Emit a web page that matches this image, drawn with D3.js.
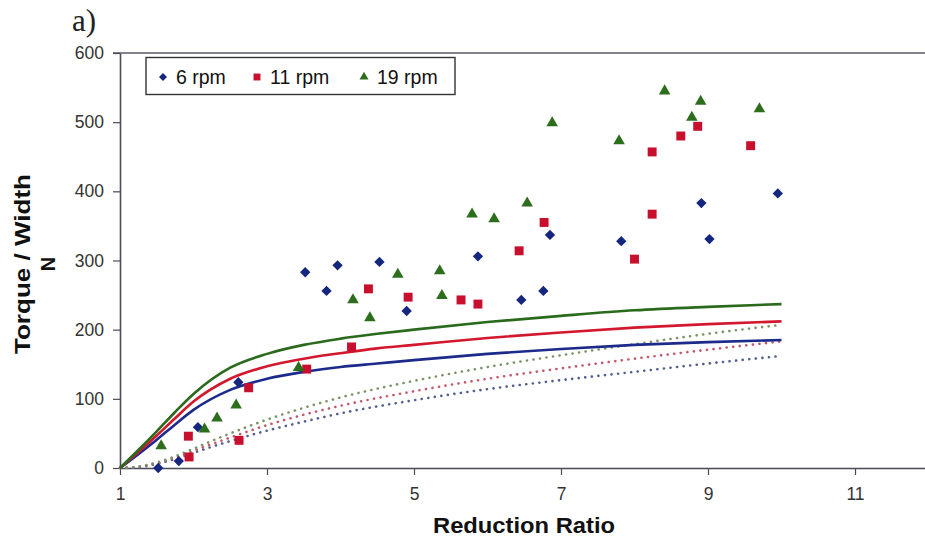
<!DOCTYPE html>
<html>
<head>
<meta charset="utf-8">
<script src="https://cdn.jsdelivr.net/npm/d3@7"></script>
<style>
  html, body { margin: 0; padding: 0; background: #ffffff; }
  svg { display: block; }
</style>
</head>
<body>
<svg id="chart" width="925" height="544"></svg>
<script>
// Measured torque per unit width against reduction ratio, three drum speeds
const rpm6 = [
  [1.52, 0], [1.80, 10], [2.06, 59], [2.61, 124], [3.52, 283], [3.81, 256],
  [3.96, 293], [4.53, 298], [4.90, 227], [5.87, 306], [6.46, 243], [6.76, 256],
  [6.85, 337], [7.82, 328], [8.91, 383], [9.02, 331], [9.95, 397]
];
const rpm11 = [
  [1.94, 16], [1.93, 46], [2.62, 40], [2.75, 116], [3.54, 143], [4.15, 175],
  [4.38, 259], [4.92, 247], [5.64, 243], [5.87, 237], [6.43, 314], [6.77, 355],
  [8.00, 302], [8.24, 367], [8.24, 457], [8.63, 480], [8.86, 494], [9.58, 466]
];
const rpm19 = [
  [1.56, 32], [2.15, 56], [2.32, 72], [2.58, 91], [3.43, 145], [4.17, 243],
  [4.40, 217], [4.78, 280], [5.35, 285], [5.38, 249], [5.79, 367], [6.09, 360],
  [6.54, 383], [6.88, 499], [7.79, 473], [8.41, 545], [8.78, 507], [8.90, 530],
  [9.70, 519]
];

// Model curves (solid) and alternative model (dotted), sampled along the ratio axis
const curveRatio = [1, 1.25, 1.5, 1.75, 2, 2.5, 3, 3.5, 4, 4.5, 5, 6, 7, 8, 9, 10];
const model6  = [0, 20, 41, 63, 84, 113, 129, 139, 146, 151, 156, 165, 172, 178, 182, 185];
const model11 = [0, 23, 47, 72, 96, 129, 147, 158, 166, 173, 178, 188, 196, 203, 208, 212];
const model19 = [0, 26, 53, 81, 107, 145, 165, 178, 187, 194, 200, 211, 220, 228, 233, 237];
const altRatio = [1, 1.25, 1.5, 1.75, 2, 2.5, 3, 3.5, 4, 5, 6, 7, 8, 9, 10];
const alt6    = [0, 1, 6, 13, 22, 39, 54, 67, 79, 98, 114, 127, 139, 151, 162];
const alt11   = [0, 2, 7, 15, 25, 44, 62, 77, 90, 111, 129, 144, 158, 171, 183];
const alt19   = [0, 2, 8, 17, 28, 50, 70, 87, 102, 126, 146, 163, 179, 194, 207];

const xTicks = [1, 3, 5, 7, 9, 11];
const yTicks = [0, 100, 200, 300, 400, 500, 600];
const legendLabels = ["6 rpm", "11 rpm", "19 rpm"];

const colors = { blue: "#15267f", red: "#c8102e", green: "#2c6e1c" };

const svg = d3.select("#chart");
const font = "'Liberation Sans', Arial, sans-serif";

const x = d3.scaleLinear().domain([1, 12]).range([120, 928.5]);
const y = d3.scaleLinear().domain([0, 600]).range([468, 53]);

// Panel label
svg.append("text")
  .attr("x", 72).attr("y", 31)
  .attr("font-family", "'Liberation Serif', 'Times New Roman', serif")
  .attr("font-size", 31).attr("fill", "#222")
  .text("a)");

// Top frame line
svg.append("line")
  .attr("x1", 113).attr("x2", 925)
  .attr("y1", y(600)).attr("y2", y(600))
  .attr("stroke", "#5a5a66").attr("stroke-width", 1.6);

// Axes
const yAxis = d3.axisLeft(y).tickValues(yTicks).tickSize(7).tickSizeOuter(0).tickPadding(9);
const gy = svg.append("g").attr("transform", `translate(${x(1)},0)`).call(yAxis);
gy.select(".domain").attr("stroke", "#4a4a5a").attr("stroke-width", 1.6);
gy.selectAll(".tick line").attr("stroke", "#4a4a5a").attr("stroke-width", 1.2);
gy.selectAll(".tick text").attr("font-family", font).attr("font-size", 17.5).attr("fill", "#333");

const xAxis = d3.axisBottom(x).tickValues(xTicks).tickSize(7).tickSizeOuter(0).tickPadding(13);
const gx = svg.append("g").attr("transform", `translate(0,${y(0)})`).call(xAxis);
gx.select(".domain").attr("stroke", "#4a4a5a").attr("stroke-width", 1.6);
gx.selectAll(".tick line").attr("stroke", "#4a4a5a").attr("stroke-width", 1.2);
gx.selectAll(".tick text").attr("font-family", font).attr("font-size", 17.5).attr("fill", "#333");

// Axis titles
svg.append("text")
  .attr("x", 524).attr("y", 533)
  .attr("text-anchor", "middle")
  .attr("font-family", font).attr("font-weight", "bold")
  .attr("font-size", 22).attr("fill", "#111")
  .attr("textLength", 182).attr("lengthAdjust", "spacingAndGlyphs")
  .text("Reduction Ratio");

const yTitle = svg.append("g").attr("transform", "translate(0,264) rotate(-90)");
yTitle.append("text")
  .attr("x", 0).attr("y", 30)
  .attr("text-anchor", "middle")
  .attr("font-family", font).attr("font-weight", "bold")
  .attr("font-size", 22).attr("fill", "#111")
  .attr("textLength", 180).attr("lengthAdjust", "spacingAndGlyphs")
  .text("Torque / Width");
yTitle.append("text")
  .attr("x", 0).attr("y", 55)
  .attr("text-anchor", "middle")
  .attr("font-family", font).attr("font-weight", "bold")
  .attr("font-size", 20).attr("fill", "#111")
  .text("N");

// Curves
const line = d3.line()
  .x(d => x(d[0])).y(d => y(d[1]))
  .curve(d3.curveMonotoneX);
const pair = (xs, vals) => xs.map((r, i) => [r, vals[i]]);

const dotted = [
  { vals: alt6,  color: "#53608f" },
  { vals: alt11, color: "#c25a6a" },
  { vals: alt19, color: "#7a9468" }
];
dotted.forEach(c => {
  svg.append("path")
    .attr("d", line(pair(altRatio, c.vals)))
    .attr("fill", "none")
    .attr("stroke", c.color)
    .attr("stroke-width", 2.6)
    .attr("stroke-linecap", "round")
    .attr("stroke-dasharray", "0.1,6.5");
});

const solid = [
  { vals: model6,  color: "#1c2a8c" },
  { vals: model11, color: "#d3182e" },
  { vals: model19, color: "#2a6a1c" }
];
solid.forEach(c => {
  svg.append("path")
    .attr("d", line(pair(curveRatio, c.vals)))
    .attr("fill", "none")
    .attr("stroke", c.color)
    .attr("stroke-width", 2.6);
});

// Data markers
const series = [
  { data: rpm6,  type: d3.symbolDiamond2, size: 68, color: colors.blue },
  { data: rpm11, type: d3.symbolSquare,   size: 80, color: colors.red },
  { data: rpm19, type: d3.symbolTriangle, size: 58, color: colors.green }
];
series.forEach(s => {
  const sym = d3.symbol().type(s.type).size(s.size);
  svg.append("g").selectAll("path")
    .data(s.data)
    .join("path")
    .attr("transform", d => `translate(${x(d[0])},${y(d[1])})`)
    .attr("d", sym)
    .attr("fill", s.color);
});

// Legend
const legend = svg.append("g");
legend.append("rect")
  .attr("x", 146).attr("y", 57.5)
  .attr("width", 309).attr("height", 37)
  .attr("fill", "#fff").attr("stroke", "#333").attr("stroke-width", 1.4);
const legendX = [163, 257, 364];
series.forEach((s, i) => {
  legend.append("path")
    .attr("transform", `translate(${legendX[i]},77)`)
    .attr("d", d3.symbol().type(s.type).size(s.size * 0.6))
    .attr("fill", s.color);
  legend.append("text")
    .attr("x", legendX[i] + 13).attr("y", 84)
    .attr("font-family", font).attr("font-size", 19.5).attr("fill", "#111")
    .text(legendLabels[i]);
});
</script>
</body>
</html>
